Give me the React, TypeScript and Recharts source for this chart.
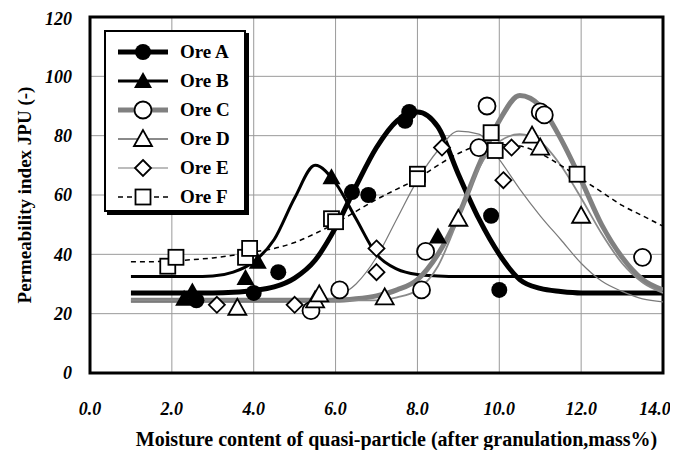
import React from "react";
import {
  ComposedChart,
  Line,
  Scatter,
  XAxis,
  YAxis,
  CartesianGrid,
  ReferenceArea,
} from "recharts";

const xTicks = [0, 2, 4, 6, 8, 10, 12, 14];
const yTicks = [0, 20, 40, 60, 80, 100, 120];

// fitted curves, every 0.5 mass%
const curveX = [1, 1.5, 2, 2.5, 3, 3.5, 4, 4.5, 5, 5.5, 6, 6.5, 7, 7.5, 8, 8.5, 9, 9.5, 10, 10.5, 11, 11.5, 12, 12.5, 13, 13.5, 14];
const curveA = [27, 27, 27, 27, 27, 27.2, 27.8, 29, 32, 38, 49, 63, 76, 85, 88, 83, 67, 52, 40, 31.5, 28.5, 27.5, 27, 27, 27, 27, 27];
const curveB = [32.5, 32.5, 32.5, 32.5, 32.7, 34, 37.5, 45, 59, 70, 64, 52, 40, 35, 33.2, 32.7, 32.5, 32.5, 32.5, 32.5, 32.5, 32.5, 32.5, 32.5, 32.5, 32.5, 32.5];
const curveC = [24.5, 24.5, 24.5, 24.5, 24.5, 24.5, 24.5, 24.5, 24.5, 24.5, 24.5, 25, 26, 28, 31.5, 40, 53, 70, 85, 93.5, 90, 79, 65, 50, 39, 31.5, 28];
const curveD = [24.5, 24.5, 24.5, 24.5, 24.5, 24.5, 24.5, 24.5, 24.5, 24.5, 24.5, 24.5, 24.5, 25.5, 28, 36, 52, 69, 78, 80.5, 78, 70, 59, 47, 37, 30.5, 27];
const curveE = [24, 24, 24, 24, 24, 24, 24, 24, 24, 24, 25.5, 30, 39, 52, 65, 75, 81.5, 80.5, 72, 62, 53, 45, 37, 31, 27.5, 25, 24];
const curveF = [37.5, 37.5, 37.8, 38.2, 38.8, 39.7, 40.8, 42, 44, 47, 50.5, 54.5, 58.5, 62, 65.5, 70, 74, 76.5, 77, 76.5, 74, 70, 65.5, 61, 56.5, 53, 49.5];

// measured points
const oreA = [
  { x: 2.6, y: 24.5 }, { x: 4.0, y: 27 }, { x: 4.6, y: 34 }, { x: 6.4, y: 61 }, { x: 6.8, y: 60 },
  { x: 7.7, y: 85 }, { x: 7.8, y: 88 }, { x: 9.8, y: 53 }, { x: 10.0, y: 28 },
];
const oreB = [
  { x: 2.3, y: 25 }, { x: 2.5, y: 27.5 }, { x: 3.8, y: 32 }, { x: 4.1, y: 37.5 }, { x: 5.9, y: 66 }, { x: 8.5, y: 46 },
];
const oreC = [
  { x: 5.4, y: 21 }, { x: 6.1, y: 28 }, { x: 8.1, y: 28 }, { x: 8.2, y: 41 }, { x: 9.5, y: 76 },
  { x: 9.7, y: 90 }, { x: 11.0, y: 88 }, { x: 11.1, y: 87 }, { x: 13.5, y: 39 },
];
const oreD = [
  { x: 3.6, y: 22 }, { x: 5.5, y: 24.5 }, { x: 5.6, y: 26.5 }, { x: 7.2, y: 25.5 }, { x: 9.0, y: 52 },
  { x: 10.8, y: 80 }, { x: 11.0, y: 76 }, { x: 12.0, y: 53 },
];
const oreE = [
  { x: 3.1, y: 23 }, { x: 5.0, y: 23 }, { x: 7.0, y: 34 }, { x: 7.0, y: 42 }, { x: 8.6, y: 76 },
  { x: 10.1, y: 65 }, { x: 10.3, y: 76 },
];
const oreF = [
  { x: 1.9, y: 36 }, { x: 2.1, y: 39 }, { x: 3.8, y: 39 }, { x: 3.9, y: 42 }, { x: 5.9, y: 52 }, { x: 6.0, y: 51 },
  { x: 8.0, y: 67 }, { x: 8.0, y: 65.5 }, { x: 9.8, y: 81 }, { x: 9.9, y: 75 }, { x: 11.9, y: 67 },
];

const serif = "'Liberation Serif', 'Times New Roman', serif";

type Kind = "dot" | "tri" | "ring" | "otri" | "diamond" | "square";

const Marker = ({ kind, cx, cy }: { kind: Kind; cx: number; cy: number }) => {
  const sw = 1.8;
  switch (kind) {
    case "dot":
      return <circle cx={cx} cy={cy} r={8} fill="#000" />;
    case "tri":
      return <polygon points={`${cx},${cy - 9} ${cx - 9},${cy + 7} ${cx + 9},${cy + 7}`} fill="#000" />;
    case "ring":
      return <circle cx={cx} cy={cy} r={8.5} fill="#fff" stroke="#000" strokeWidth={sw} />;
    case "otri":
      return (
        <polygon points={`${cx},${cy - 9} ${cx - 9},${cy + 7} ${cx + 9},${cy + 7}`} fill="#fff" stroke="#000" strokeWidth={sw} />
      );
    case "diamond":
      return (
        <polygon points={`${cx},${cy - 8} ${cx + 8},${cy} ${cx},${cy + 8} ${cx - 8},${cy}`} fill="#fff" stroke="#000" strokeWidth={sw} />
      );
    default:
      return <rect x={cx - 7.5} y={cy - 7.5} width={15} height={15} fill="#fff" stroke="#000" strokeWidth={sw} />;
  }
};

const series = [
  { name: "Ore A", pts: oreA, curve: curveA, kind: "dot" as Kind, color: "#000", width: 5, dash: undefined },
  { name: "Ore B", pts: oreB, curve: curveB, kind: "tri" as Kind, color: "#000", width: 3, dash: undefined },
  { name: "Ore C", pts: oreC, curve: curveC, kind: "ring" as Kind, color: "#808080", width: 5, dash: undefined },
  { name: "Ore D", pts: oreD, curve: curveD, kind: "otri" as Kind, color: "#8a8a8a", width: 1.8, dash: undefined },
  { name: "Ore E", pts: oreE, curve: curveE, kind: "diamond" as Kind, color: "#7a7a7a", width: 1.2, dash: undefined },
  { name: "Ore F", pts: oreF, curve: curveF, kind: "square" as Kind, color: "#000", width: 1.5, dash: "5 4" },
];

const LegendBox = () => (
  <div
    style={{
      position: "absolute",
      left: 96,
      top: 22,
      width: 138,
      height: 178,
      border: "2px solid #000",
      boxShadow: "3px 3px 0 #000",
      background: "#fff",
    }}
  >
    {series.map((s, i) => (
      <div key={s.name} style={{ position: "absolute", left: 0, top: 6 + i * 29, height: 28, display: "flex", alignItems: "center" }}>
        <svg width={72} height={28}>
          <line x1={12} x2={62} y1={14} y2={14} stroke={s.color} strokeWidth={s.width} strokeDasharray={s.dash} />
          <Marker kind={s.kind} cx={37} cy={14} />
        </svg>
        <span style={{ fontFamily: serif, fontWeight: "bold", fontSize: 19, marginLeft: 2 }}>{s.name}</span>
      </div>
    ))}
  </div>
);

const tickStyle = { fill: "#000", fontFamily: serif, fontWeight: "bold", fontStyle: "italic", fontSize: 18 };

// keep the last label inside the page
const XTick = ({ x, y, payload }: any) => {
  const v = Number(payload.value);
  return (
    <text x={v === 14 ? x - 8 : x} y={y} dy="0.71em" textAnchor="middle" {...tickStyle}>
      {v.toFixed(1)}
    </text>
  );
};

const App = () => {
  return (
    <div style={{ position: "relative", width: 670, height: 442 }}>
      <ComposedChart width={670} height={442} margin={{ top: 9, right: 15, bottom: 0, left: 0 }}>
        <CartesianGrid stroke="#9a9a9a" strokeWidth={1} horizontalValues={yTicks} verticalValues={xTicks} />
        <XAxis
          type="number"
          dataKey="x"
          domain={[0, 14]}
          ticks={xTicks}
          allowDataOverflow
          height={77}
          axisLine={false}
          tickLine={false}
          tickSize={0}
          tickMargin={29}
          tick={<XTick />}
          label={{
            value: "Moisture content of quasi-particle (after granulation,mass%)",
            position: "insideBottom",
            offset: 4,
            dx: 20,
            style: { fill: "#000", fontFamily: serif, fontWeight: "bold", fontSize: 20 },
          }}
        />
        <YAxis
          type="number"
          dataKey="y"
          domain={[0, 120]}
          ticks={yTicks}
          allowDataOverflow
          width={82}
          axisLine={false}
          tickLine={false}
          tickSize={0}
          tickMargin={18}
          tick={tickStyle}
          label={{
            value: "Permeability index JPU (-)",
            angle: -90,
            position: "insideLeft",
            offset: 16,
            style: { fill: "#000", fontFamily: serif, fontWeight: "bold", fontSize: 19, textAnchor: "middle" },
          }}
        />
        {series.map((s) => (
          <Line
            key={s.name + "-fit"}
            data={s.curve.map((y, i) => ({ x: curveX[i], y }))}
            dataKey="y"
            type="monotone"
            stroke={s.color}
            strokeWidth={s.width}
            strokeDasharray={s.dash}
            dot={false}
            activeDot={false}
            isAnimationActive={false}
            legendType="none"
          />
        ))}
        {series.map((s) => (
          <Scatter
            key={s.name}
            name={s.name}
            data={s.pts}
            dataKey="y"
            isAnimationActive={false}
            shape={(p: any) => <Marker kind={s.kind} cx={p.cx} cy={p.cy} />}
          />
        ))}
        <ReferenceArea x1={0} x2={14} y1={0} y2={120} fill="none" stroke="#000" strokeWidth={3} ifOverflow="visible" />
      </ComposedChart>
      <LegendBox />
    </div>
  );
};

export default App;
